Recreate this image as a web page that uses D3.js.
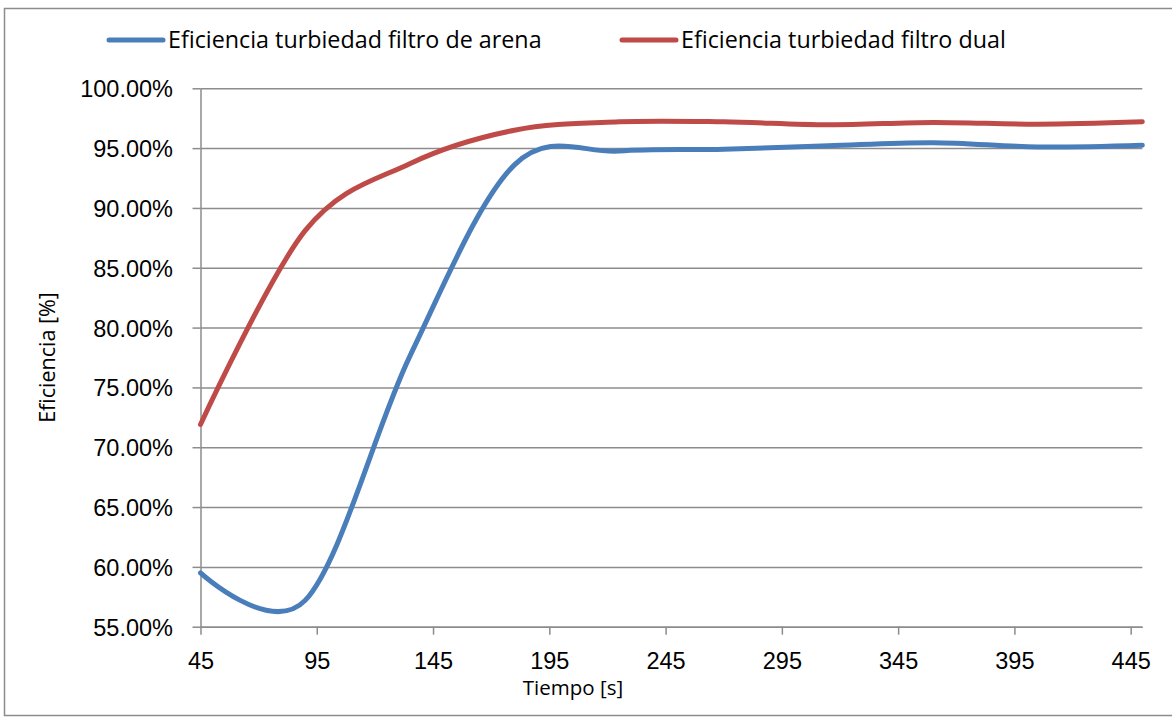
<!DOCTYPE html>
<html>
<head>
<meta charset="utf-8">
<script src="https://cdn.jsdelivr.net/npm/d3@7"></script>
<style>
  body { margin: 0; background: #fff; }
  svg { display: block; font-family: "Open Sans", sans-serif; }
  .grid line { stroke: #8c8c8c; stroke-width: 1.5; }
  .grid .domain { display: none; }
  .axis path, .axis line { stroke: #8c8c8c; stroke-width: 1.5; }
  .axis text { font-size: 23.5px; fill: #000; }
</style>
</head>
<body>
<div id="chart"></div>
<script>
// time (s) and efficiency (%)
var tiempo = [45, 90, 135, 180, 225, 270, 315, 360, 405, 450];
var arena  = [59.5, 57.2, 77.6, 93.6, 94.75, 94.9, 95.2, 95.45, 95.1, 95.25];
var dual   = [71.9, 88.1, 93.7, 96.5, 97.2, 97.2, 96.95, 97.15, 97.0, 97.2];

var xTicks = [45, 95, 145, 195, 245, 295, 345, 395, 445];
var yTicks = [55, 60, 65, 70, 75, 80, 85, 90, 95, 100];

var series = [
  { name: "Eficiencia turbiedad filtro de arena", values: arena, color: "#4a7ebb" },
  { name: "Eficiencia turbiedad filtro dual", values: dual, color: "#be4b48" }
];

var W = 1172, H = 719;
var margin = { top: 88.3, right: 29.7, bottom: 92.3, left: 200.5 };
var width = W - margin.left - margin.right,
    height = H - margin.top - margin.bottom;

var svg = d3.select("#chart").append("svg")
    .attr("width", W)
    .attr("height", H);

// chart area border
svg.append("rect")
    .attr("x", 4.5).attr("y", 8.5)
    .attr("width", 1175).attr("height", 707)
    .attr("fill", "none")
    .attr("stroke", "#8c8c8c")
    .attr("stroke-width", 1.5);

var g = svg.append("g")
    .attr("transform", "translate(" + margin.left + "," + margin.top + ")");

var x = d3.scaleLinear().domain([45, 450]).range([0, width]);
var y = d3.scaleLinear().domain([55, 100]).range([height, 0]);

// horizontal gridlines
g.append("g")
    .attr("class", "grid")
    .call(d3.axisLeft(y).tickValues(yTicks).tickSize(-width).tickFormat(""));

// y axis
var yAxis = g.append("g")
    .attr("class", "axis")
    .call(d3.axisLeft(y).tickValues(yTicks).tickSize(8).tickSizeOuter(0)
        .tickFormat(function(d) { return d.toFixed(2) + "%"; }));
yAxis.selectAll("text").attr("x", -27.5).attr("dy", "0.36em");

// x axis
var xAxis = g.append("g")
    .attr("class", "axis")
    .attr("transform", "translate(0," + height + ")")
    .call(d3.axisBottom(x).tickValues(xTicks).tickSize(8).tickSizeOuter(0));
xAxis.selectAll("text").attr("y", 42.5).attr("dy", 0);

// axis titles
svg.append("text")
    .attr("x", 573).attr("y", 695)
    .attr("text-anchor", "middle")
    .style("font-size", "20.5px")
    .text("Tiempo [s]");

svg.append("text")
    .attr("transform", "translate(55," + (margin.top + height / 2) + ") rotate(-90)")
    .attr("text-anchor", "middle")
    .style("font-size", "21.5px")
    .text("Eficiencia [%]");

// smoothed lines, like Excel's "smoothed line" option
var line = d3.line()
    .curve(d3.curveCardinal.tension(0))
    .x(function(d, i) { return x(tiempo[i]); })
    .y(function(d) { return y(d); });

g.selectAll(".serie")
    .data(series)
  .enter().append("path")
    .attr("class", "serie")
    .attr("fill", "none")
    .attr("stroke", function(d) { return d.color; })
    .attr("stroke-width", 5)
    .attr("stroke-linecap", "round")
    .attr("stroke-linejoin", "round")
    .attr("d", function(d) { return line(d.values); });

// legend
var legendX = [109, 622];
var legend = svg.selectAll(".legend")
    .data(series)
  .enter().append("g")
    .attr("class", "legend")
    .attr("transform", function(d, i) { return "translate(" + legendX[i] + ",40)"; });

legend.append("line")
    .attr("x1", 0).attr("x2", 54)
    .attr("stroke", function(d) { return d.color; })
    .attr("stroke-width", 5)
    .attr("stroke-linecap", "round");

legend.append("text")
    .attr("x", 59).attr("y", 8)
    .style("font-size", "23.3px")
    .text(function(d) { return d.name; });
</script>
</body>
</html>
